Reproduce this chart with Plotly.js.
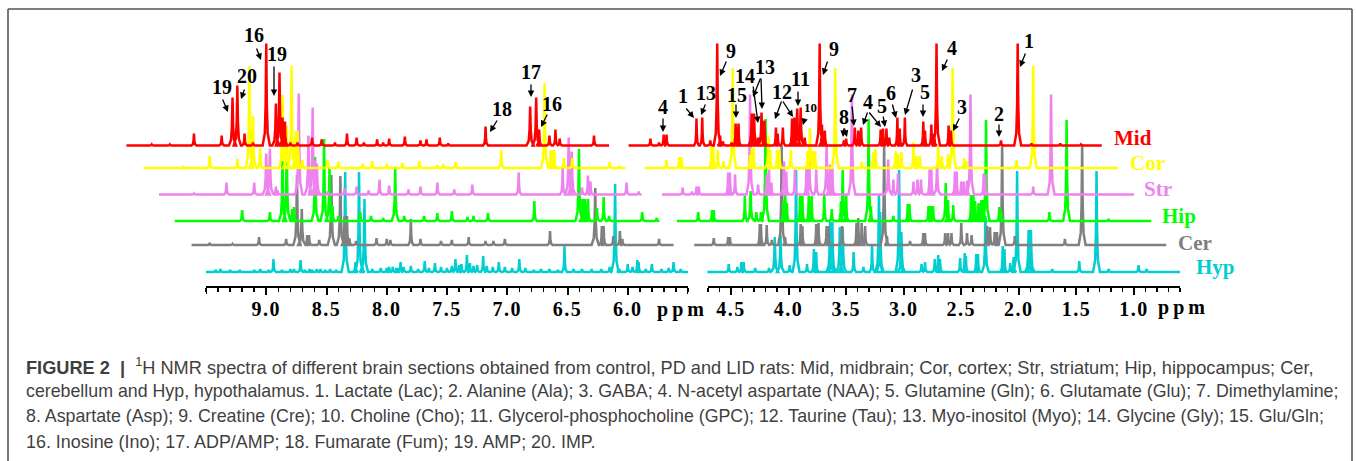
<!DOCTYPE html>
<html><head><meta charset="utf-8">
<script src="https://cdn.plot.ly/plotly-3.0.1.min.js"></script>
<style>
html,body{margin:0;padding:0;background:#fff}
#c{width:1356px;height:461px}
.xtick text,.x2tick text{letter-spacing:1.5px}
</style></head><body><div id="c"></div>
<script>
const seriesNames=['Hyp','Cer','Hip','Str','Cor','Mid'];
const seriesColors=['#00ced1','#808080','#00ff00','#ee82ee','#ffff00','#ff0000'];
const seriesBaselinePx=[272,245,221,194.5,168,145.5];

const midLeftPpm=[10.16,9.95,9.80,9.60,9.37,9.28,9.24,9.18,9.11,9.00,8.92,8.89,8.865,8.845,8.80,8.74,8.62,8.54,8.43,8.33,8.25,8.19,8.08,8.03,7.98,7.85,7.72,7.67,7.56,7.49,7.18,6.81,6.76,6.735,6.65,6.60,6.565,6.28,6.155];
const midLeftH=[0,1,1,12,10,48,60,12,3,102,42,73,28,24,3,3,8,6,3,12,8,3,6,3,7,9,5,6,8,2,19,39,48,16,10,16,7,10,0];
const midRightPpm=[5.39,5.20,5.125,5.085,5.06,4.80,4.75,4.68,4.62,4.595,4.57,4.495,4.46,4.435,4.32,4.30,4.265,4.235,4.21,4.11,4.095,4.05,3.97,3.95,3.925,3.895,3.86,3.73,3.71,3.685,3.52,3.50,3.425,3.395,3.37,3.20,3.18,3.15,3.125,3.055,3.035,2.99,2.83,2.815,2.76,2.735,2.715,2.61,2.59,2.155,2.01,1.89,1.64,1.46,1.28];
const midRightH=[0,7,3,11,11,27,28,5,102,10,4,3,22,22,32,32,8,33,25,18,12,18,27,28,37,38,8,102,21,15,5,7,18,15,18,16,17,17,8,28,17,28,24,15,21,12,102,20,15,5,102,2,2,1,0];

const corLeftPpm=[10.02,9.69,9.47,9.24,9.14,9.11,9.05,8.865,8.83,8.79,8.755,8.74,8.70,8.49,8.40,8.20,8.12,8.00,7.87,7.73,7.58,7.53,7.43,7.05,6.69,6.64,6.625,6.61,6.53,6.46,6.15,6.07,6.02];
const corLeftH=[0,2,12,9,102,52,20,73,42,102,37,37,8,8,6,4,7,4,5,7,3,4,6,18,85,18,18,18,10,10,6,2,0];
const corRightPpm=[5.25,5.06,4.95,4.93,4.67,4.655,4.615,4.565,4.485,4.335,4.32,4.305,4.175,4.16,4.10,4.08,3.98,3.835,3.815,3.79,3.77,3.595,3.365,3.265,3.245,3.07,3.05,3.02,2.915,2.89,2.86,2.70,2.67,2.615,2.575,2.475,2.455,2.02,1.875,1.14];
const corRightH=[0,8,11,11,22,22,18,7,100,13,20,20,32,18,18,18,18,17,40,17,17,100,6,16,19,17,14,16,26,12,12,22,12,14,100,10,7,8,102,0];

const strLeftPpm=[9.89,9.60,9.33,9.10,9.00,8.97,8.92,8.905,8.73,8.65,8.615,8.595,8.58,8.49,8.35,8.25,8.15,8.06,7.98,7.82,7.72,7.58,7.44,7.29,6.905,6.54,6.49,6.465,6.38,6.33,6.31,6.01,5.91,5.885];
const strLeftH=[0,1,12,12,41,46,8,4,101,59,87,34,31,3,6,8,4,15,9,5,8,12,5,10,22,27,57,43,7,19,13,12,3,0];
const strRightPpm=[5.10,4.92,4.84,4.80,4.78,4.525,4.51,4.465,4.335,4.265,4.19,4.17,4.15,4.04,4.02,3.945,3.845,3.82,3.76,3.67,3.64,3.62,3.45,3.135,3.09,3.05,2.915,2.88,2.85,2.775,2.76,2.71,2.555,2.54,2.50,2.48,2.45,2.42,2.305,2.29,1.875,1.72,1.00];
const strRightH=[0,7,3,8,8,22,22,20,100,10,20,25,12,33,23,25,28,35,25,49,30,27,100,35,15,21,13,15,15,25,25,30,23,23,13,13,14,100,21,20,8,100,0];

const hipLeftPpm=[9.76,9.20,8.97,8.865,8.83,8.785,8.77,8.595,8.52,8.475,8.45,8.40,8.22,8.13,8.03,7.93,7.855,7.69,7.58,7.46,7.33,7.28,7.16,6.775,6.405,6.375,6.355,6.33,6.255,6.20,6.155,5.88,5.76,5.75];
const hipLeftH=[0,11,9,60,73,12,14,64,82,54,15,5,9,5,3,52,5,5,8,10,4,5,8,20,72,22,22,22,13,24,5,9,3,0];
const hipRightPpm=[4.97,4.785,4.665,4.65,4.38,4.33,4.28,4.24,4.20,4.045,4.03,4.015,3.90,3.88,3.825,3.80,3.69,3.625,3.545,3.53,3.50,3.305,3.285,3.09,2.965,2.95,2.785,2.765,2.745,2.635,2.615,2.57,2.415,2.395,2.38,2.35,2.325,2.305,2.285,2.17,2.155,1.735,1.585,1.22,0.85];
const hipRightH=[0,9,11,11,25,30,9,9,102,20,29,18,25,25,25,25,27,12,20,51,27,102,15,5,17,17,15,15,15,38,21,16,26,26,20,18,21,21,101,14,10,9,101,2,0];

const cerLeftPpm=[9.62,9.47,9.28,9.06,8.835,8.745,8.705,8.66,8.645,8.56,8.46,8.385,8.35,8.33,8.31,8.255,8.085,8.00,7.97,7.80,7.72,7.55,7.46,7.32,7.18,7.115,7.02,6.645,6.27,6.215,6.20,6.12,6.065,6.045,5.74,5.62];
const cerLeftH=[0,2,1,8,6,70,36,10,10,5,70,69,29,29,7,4,7,6,5,26,6,4,5,8,4,4,6,14,57,19,19,9,14,6,6,0];
const cerRightPpm=[4.82,4.65,4.525,4.51,4.25,4.24,4.19,4.145,4.06,4.03,3.895,3.88,3.76,3.74,3.67,3.655,3.535,3.41,3.395,3.365,3.335,3.17,3.145,2.945,2.83,2.815,2.64,2.615,2.585,2.50,2.45,2.41,2.275,2.25,2.21,2.19,2.145,2.035,1.60,1.45,0.72];
const cerRightH=[0,7,8,8,21,21,20,5,100,8,21,19,21,22,19,19,19,22,27,22,19,100,9,4,12,12,12,12,12,22,12,10,19,18,13,13,100,9,6,101,0];

const hypLeftPpm=[9.50,9.42,9.38,9.30,9.22,9.10,9.05,8.98,8.94,8.87,8.80,8.77,8.715,8.68,8.64,8.62,8.58,8.55,8.51,8.47,8.42,8.345,8.26,8.23,8.205,8.185,8.12,8.05,8.00,7.98,7.95,7.92,7.91,7.885,7.86,7.80,7.74,7.685,7.65,7.60,7.55,7.50,7.46,7.43,7.40,7.38,7.335,7.31,7.28,7.25,7.20,7.17,7.12,7.07,7.02,6.96,6.90,6.85,6.78,6.72,6.65,6.58,6.525,6.45,6.38,6.30,6.22,6.15,6.105,6.07,6.00,5.96,5.92,5.91,5.85,5.80,5.72,5.66,5.62,5.56,5.50];
const hypLeftH=[0,2,3,2,2,2,3,2,13,2,3,3,12,2,3,2,3,3,2,3,2,100,10,100,10,73,3,4,4,5,5,4,4,10,5,6,3,11,4,9,5,4,6,13,7,8,17,9,6,7,16,6,5,10,5,4,13,4,2,3,3,2,26,3,3,3,3,5,88,3,8,5,12,10,3,8,3,4,10,3,0];
const hypRightPpm=[4.705,4.52,4.445,4.41,4.39,4.29,4.17,4.12,4.07,3.99,3.935,3.84,3.78,3.76,3.64,3.62,3.555,3.53,3.435,3.35,3.275,3.215,3.205,3.04,3.02,2.845,2.815,2.73,2.70,2.685,2.51,2.47,2.46,2.37,2.355,2.29,2.14,2.125,2.075,2.045,2.015,1.915,1.895,1.71,1.475,1.325,1.22,0.96,0.89,0.60];
const hypRightH=[0,8,5,10,10,4,4,35,37,7,102,8,23,20,50,50,45,45,20,5,27,77,60,102,40,8,10,13,17,13,14,19,16,18,18,56,26,23,9,15,101,42,42,3,11,101,3,7,3,0];

const leftPpm=[hypLeftPpm,cerLeftPpm,hipLeftPpm,strLeftPpm,corLeftPpm,midLeftPpm];
const leftH=[hypLeftH,cerLeftH,hipLeftH,strLeftH,corLeftH,midLeftH];
const rightPpm=[hypRightPpm,cerRightPpm,hipRightPpm,strRightPpm,corRightPpm,midRightPpm];
const rightH=[hypRightH,cerRightH,hipRightH,strRightH,corRightH,midRightH];

const leftTicks=[9,8.5,8,7.5,7,6.5,6];
const leftTickText=['9.0','8.5','8.0','7.5','7.0','6.5','6.0'];
const rightTicks=[4.5,4,3.5,3,2.5,2,1.5,1];
const rightTickText=['4.5','4.0','3.5','3.0','2.5','2.0','1.5','1.0'];

const peakText=['16','19','20','19','18','17','16','4','1','13','9','14','13','15','12','11','10','9','7','8','4','5','6','3','5','4','3','1','2'];
const peakTextX=[254,277,247,222,502,531,552,663,683,706,731,745,765,737,782,800,810,834,852,844,868,882,891,916,925,952,962,1029,999];
const peakTextY=[35,54,76,87,109,72,104,107,96,93,51,76,67,95,92,79,107,49,95,117,102,106,93,75,92,48,107,41,114];
const arrowFromX=[256,274,245,222,498,531,548,663,685,706,727,753,761,761,736,782,782,798,805,828,852,844,844,868,868,883,892,913,923,948,960,1026,999];
const arrowFromY=[47,65,88,98,119,83,113,117,107,103,60,85,77,77,103,100,100,90,117,60,105,127,127,111,111,115,103,88,103,58,117,52,123];
const arrowToX=[261,274,241,228,490,531,541,663,694,701,720,758,762,753,736,775,793,798,803,823,854,843,847,863,881,885,896,905,923,942,953,1020,999];
const arrowToY=[60,96,99,112,132,97,127,132,118,115,76,123,109,97,118,119,117,106,125,75,126,137,137,125,127,127,118,115,117,71,131,67,137];

const nameX=[1215,1195,1179,1158,1147,1133];
const nameY=[267,243,216,189,163,138];

const captionLines=[
 '<b>FIGURE 2  |</b>  <sup>1</sup>H NMR spectra of different brain sections obtained from control, PD and LID rats: Mid, midbrain; Cor, cortex; Str, striatum; Hip, hippocampus; Cer,',
 'cerebellum and Hyp, hypothalamus. 1. Lactate (Lac); 2. Alanine (Ala); 3. GABA; 4. N-acetyl aspartate (NAA); 5. Glutamine (Gln); 6. Glutamate (Glu); 7. Dimethylamine;',
 '8. Aspartate (Asp); 9. Creatine (Cre); 10. Choline (Cho); 11. Glycerol-phosphocholine (GPC); 12. Taurine (Tau); 13. Myo-inositol (Myo); 14. Glycine (Gly); 15. Glu/Gln;',
 '16. Inosine (Ino); 17. ADP/AMP; 18. Fumarate (Fum); 19. AMP; 20. IMP.'];
const captionY=[366,391,416,442];
const captionSize=[18.2,17.8,17.8,17.9];

const W=1356,H=461,AXIS_Y=287,SERIF='"Liberation Serif","Times New Roman",serif';
const px=v=>v/W, py=v=>1-v/H;
const leftPxPerPpm=(688-206)/(9.5-5.5), rightPxPerPpm=(1180-708)/(4.7-0.6);

function shape(ppm,h,base){
  const w=0.005,x=[],y=[];
  ppm.forEach((p,i)=>{
    if(h[i]===0){x.push(p);y.push(base);return;}
    const s=(h[i]>=30)?1:0.7;
    x.push(p+6*w*s,p+2.4*w*s,p+w*s,p,p-w*s,p-2.4*w*s,p-6*w*s);
    y.push(base,base+h[i]*0.12,base+h[i]*0.4,base+h[i],base+h[i]*0.4,base+h[i]*0.12,base);
  });
  return {x,y};
}
const traces=[];
[['x',9.5],['x2',4.7]].forEach(a=>traces.push({type:'scatter',mode:'lines',x:[a[1]],y:[-50],xaxis:a[0],yaxis:'y',showlegend:false,hoverinfo:'skip'}));
seriesNames.forEach((n,i)=>{
  const base=H-seriesBaselinePx[i];
  [[leftPpm,leftH,'x3'],[rightPpm,rightH,'x4']].forEach(([P,V,ax])=>{
    const d=shape(P[i],V[i],base);
    traces.push({type:'scatter',mode:'lines',x:d.x,y:d.y,xaxis:ax,yaxis:'y',name:n,showlegend:false,hoverinfo:'skip',
      line:{color:seriesColors[i],width:2.5,simplify:false}});
  });
});

const annotations=[];
peakText.forEach((t,i)=>annotations.push({xref:'paper',yref:'paper',x:px(peakTextX[i]),y:py(peakTextY[i]),text:'<b>'+t+'</b>',showarrow:false,xanchor:'center',yanchor:'middle',
  font:{family:SERIF,size:t==='10'?13:20,color:'#000'}}));
arrowFromX.forEach((v,i)=>annotations.push({xref:'paper',yref:'paper',x:px(arrowToX[i]),y:py(arrowToY[i]),axref:'pixel',ayref:'pixel',
  ax:v-arrowToX[i],ay:arrowFromY[i]-arrowToY[i],text:'',showarrow:true,arrowhead:2,arrowsize:1,arrowwidth:1.3,arrowcolor:'#000'}));
seriesNames.forEach((n,i)=>annotations.push({xref:'paper',yref:'paper',x:px(nameX[i]),y:py(nameY[i]),text:'<b>'+n+'</b>',showarrow:false,xanchor:'center',yanchor:'middle',
  font:{family:SERIF,size:21,color:seriesColors[i]}}));
[[681,309],[1181,307]].forEach(p=>annotations.push({xref:'paper',yref:'paper',x:px(p[0]),y:py(p[1]),text:'<b>p\u2009p\u2009m</b>',showarrow:false,xanchor:'center',yanchor:'middle',
  font:{family:SERIF,size:20,color:'#000'}}));
captionLines.forEach((t,i)=>annotations.push({xref:'paper',yref:'paper',x:px(24),y:py(captionY[i]),text:t,showarrow:false,xanchor:'left',yanchor:'middle',align:'left',
  font:{family:'"Liberation Sans",Arial,sans-serif',size:captionSize[i],color:'#3f3f3f'}}));

const axisBase={anchor:'free',position:(H-AXIS_Y)/H,showgrid:false,zeroline:false,showline:true,linecolor:'#000',linewidth:2,
  ticks:'outside',ticklen:7,tickwidth:2,tickcolor:'#000',tickmode:'array',ticklabelstandoff:-3,
  tickfont:{family:SERIF,size:20,color:'#000',weight:700},
  minor:{dtick:0.1,ticks:'outside',ticklen:3.5,tickwidth:1.5,tickcolor:'#000',showgrid:false}};
const dataAxis={visible:false,anchor:'y',showgrid:false,zeroline:false};

Plotly.newPlot('c',traces,{
  width:W,height:H,margin:{l:0,r:0,t:0,b:0},paper_bgcolor:'#fff',plot_bgcolor:'rgba(0,0,0,0)',showlegend:false,
  xaxis:Object.assign({},axisBase,{domain:[206/W,688/W],range:[9.5,5.5],tickvals:leftTicks,ticktext:leftTickText}),
  xaxis2:Object.assign({},axisBase,{domain:[708/W,1180/W],range:[4.7,0.6],tickvals:rightTicks,ticktext:rightTickText}),
  xaxis3:Object.assign({},dataAxis,{domain:[100/W,700/W],range:[9.5+(206-100)/leftPxPerPpm,5.5-(700-688)/leftPxPerPpm]}),
  xaxis4:Object.assign({},dataAxis,{domain:[620/W,1200/W],range:[4.7+(708-620)/rightPxPerPpm,0.6-(1200-1180)/rightPxPerPpm]}),
  yaxis:{domain:[0,1],range:[0,H],visible:false,fixedrange:true},
  annotations,
  shapes:[
    {type:'line',xref:'paper',yref:'paper',x0:px(8),x1:px(1352),y0:py(9),y1:py(9),line:{color:'#555',width:1.6}},
    {type:'line',xref:'paper',yref:'paper',x0:px(8),x1:px(8),y0:0,y1:py(9),line:{color:'#555',width:1.6}},
    {type:'line',xref:'paper',yref:'paper',x0:px(1352),x1:px(1352),y0:0,y1:py(9),line:{color:'#555',width:1.6}},
    {type:'line',xref:'x',yref:'paper',x0:9.5,x1:9.5,y0:py(AXIS_Y),y1:py(AXIS_Y+7),line:{color:'#000',width:2}},
    {type:'line',xref:'x',yref:'paper',x0:5.5,x1:5.5,y0:py(AXIS_Y),y1:py(AXIS_Y+7),line:{color:'#000',width:2}}
  ]
},{staticPlot:true,displayModeBar:false});
</script></body></html>
